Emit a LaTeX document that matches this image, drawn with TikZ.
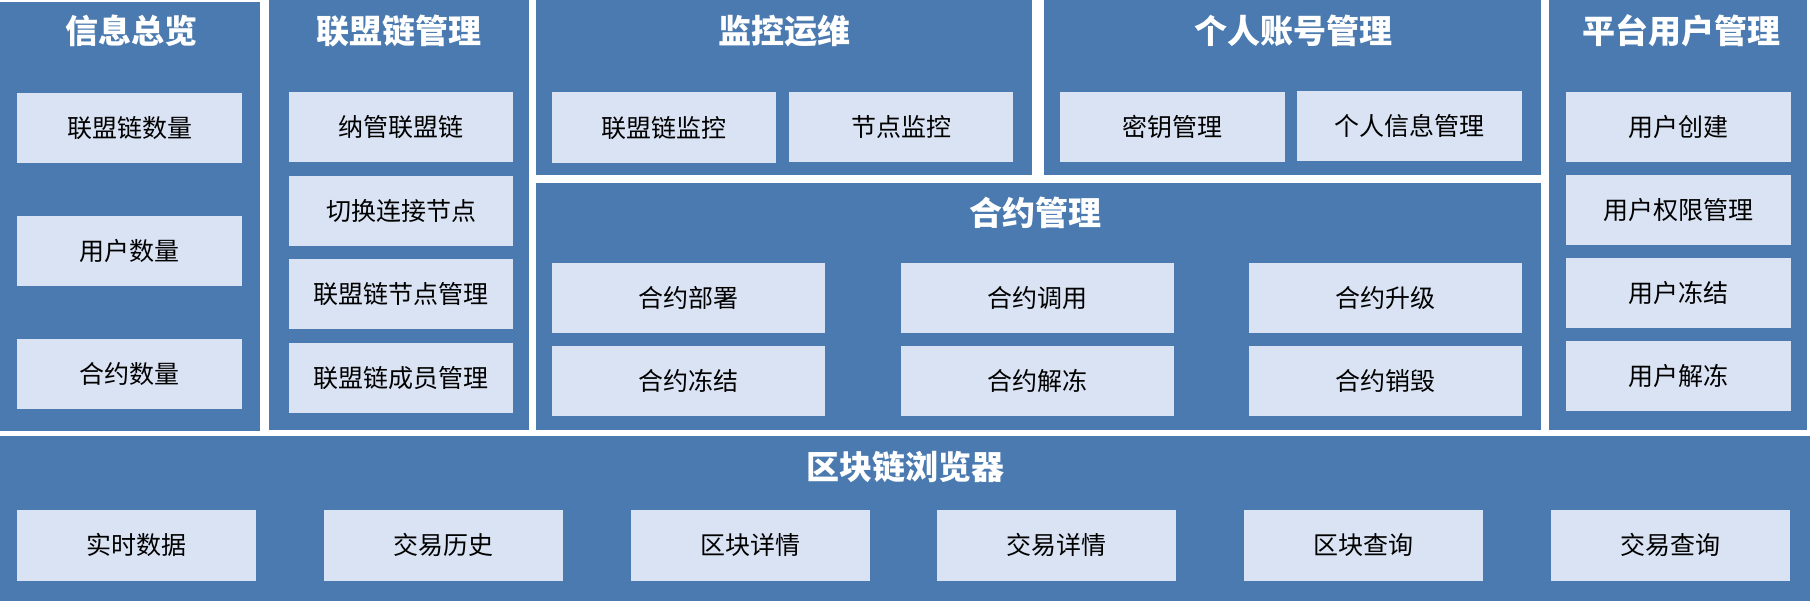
\documentclass[tikz,border=0pt]{standalone}
\usepackage{fontspec}
\setmainfont{Noto Sans CJK SC}
\definecolor{panelblue}{HTML}{4A7AAF}
\definecolor{itemblue}{HTML}{DAE3F3}

\begin{document}
\begin{tikzpicture}[x=1pt,y=-1pt]
        \tikzstyle{every node}=[inner sep=0pt, outer sep=0pt]
        \tikzstyle{panel}=[fill=panelblue, anchor=north west]
        \tikzstyle{head}=[text=white, font=\fontsize{33}{36}\selectfont\bfseries]
        \tikzstyle{item}=[fill=itemblue, anchor=north west, minimum width=224pt, minimum height=70.5pt, font=\fontsize{25}{30}\selectfont]
        \fill[white] (0,0) rectangle (1810,601);
        \useasboundingbox (0,0) rectangle (1810,601);
        \node[panel, minimum width=259.5pt, minimum height=429pt] (info) at (0,2) {};
        \node[panel, minimum width=260pt, minimum height=430pt] (chain) at (269,0) {};
        \node[panel, minimum width=496pt, minimum height=175.5pt] (mon) at (536,0) {};
        \node[panel, minimum width=496.5pt, minimum height=175pt] (acct) at (1044,0) {};
        \node[panel, minimum width=1005pt, minimum height=247pt] (ctr) at (536,183) {};
        \node[panel, minimum width=258.5pt, minimum height=430pt] (plat) at (1548.5,0) {};
        \node[panel, minimum width=1810pt, minimum height=165pt] (brw) at (0,436) {};
        \node[head] (info-t) at (131,31) {信息总览};
        \node[head] (chain-t) at (399,31) {联盟链管理};
        \node[head] (mon-t) at (784,31) {监控运维};
        \node[head] (acct-t) at (1293,31) {个人账号管理};
        \node[head] (plat-t) at (1681,31) {平台用户管理};
        \node[head] (ctr-t) at (1035,213) {合约管理};
        \node[head] (brw-t) at (905,467) {区块链浏览器};
        \node[item, minimum width=225pt] (info1) at (17,93) {联盟链数量};
        \node[item, minimum width=225pt] (info2) at (17,216) {用户数量};
        \node[item, minimum width=225pt] (info3) at (17,339) {合约数量};
        \node[item] (chain1) at (289,92) {纳管联盟链};
        \node[item] (chain2) at (289,176) {切换连接节点};
        \node[item] (chain3) at (289,259) {联盟链节点管理};
        \node[item] (chain4) at (289,343) {联盟链成员管理};
        \node[item] (mon1) at (552,92.5) {联盟链监控};
        \node[item] (mon2) at (789,92) {节点监控};
        \node[item, minimum width=225pt] (acct1) at (1060,92) {密钥管理};
        \node[item, minimum width=225pt] (acct2) at (1297,91) {个人信息管理};
        \node[item, minimum width=225.5pt] (plat1) at (1565.5,92) {用户创建};
        \node[item, minimum width=225.5pt] (plat2) at (1565.5,175) {用户权限管理};
        \node[item, minimum width=225.5pt] (plat3) at (1565.5,258) {用户冻结};
        \node[item, minimum width=225.5pt] (plat4) at (1565.5,341) {用户解冻};
        \node[item, minimum width=273pt] (ctr1) at (552,263) {合约部署};
        \node[item, minimum width=273pt] (ctr2) at (901,263) {合约调用};
        \node[item, minimum width=273pt] (ctr3) at (1249,263) {合约升级};
        \node[item, minimum width=273pt] (ctr4) at (552,346) {合约冻结};
        \node[item, minimum width=273pt] (ctr5) at (901,346) {合约解冻};
        \node[item, minimum width=273pt] (ctr6) at (1249,346) {合约销毁};
        \node[item, minimum width=239pt] (brw1) at (17,510) {实时数据};
        \node[item, minimum width=239pt] (brw2) at (323.8,510) {交易历史};
        \node[item, minimum width=239pt] (brw3) at (630.6,510) {区块详情};
        \node[item, minimum width=239pt] (brw4) at (937.4,510) {交易详情};
        \node[item, minimum width=239pt] (brw5) at (1244.2,510) {区块查询};
        \node[item, minimum width=239pt] (brw6) at (1551,510) {交易查询};
    \end{tikzpicture}
\end{document}
